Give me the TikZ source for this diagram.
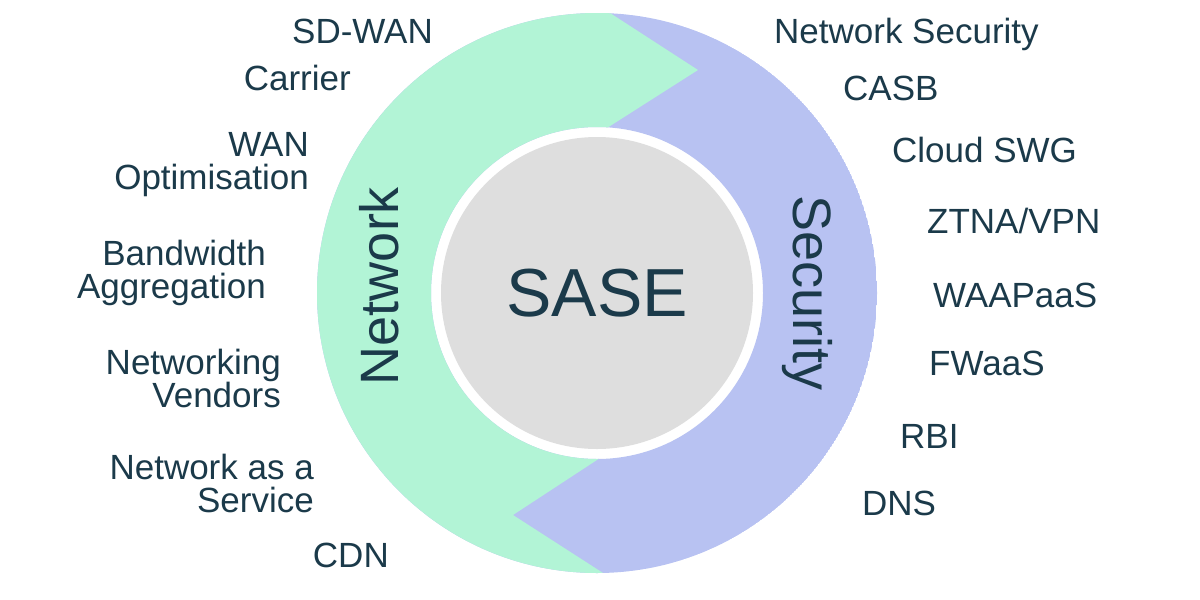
\documentclass[tikz,border=0pt]{standalone}
\usepackage{fontspec}
\setmainfont{Liberation Sans}
\definecolor{netgreen}{HTML}{B2F4D6}
\definecolor{secblue}{HTML}{B8C2F2}
\definecolor{coregray}{HTML}{DEDEDE}
\definecolor{ink}{HTML}{1B3A4A}

\begin{document}
\begin{tikzpicture}[
        x=1pt, y=-1pt,
        item/.style={
            inner sep=0pt,
            text=ink,
            font=\fontsize{35}{33}\selectfont
        },
        leftitem/.style={
            item,
            anchor=base east,
            align=right
        },
        rightitem/.style={
            item,
            anchor=base west
        },
        ringlabel/.style={
            inner sep=0pt,
            text=ink,
            font=\fontsize{54}{54}\selectfont
        },
        core/.style={
            circle,
            fill=coregray,
            minimum size=312pt,
            inner sep=0pt,
            text=ink,
            font=\fontsize{68}{68}\selectfont
        }
    ]

    \useasboundingbox[fill=white] (0,0) rectangle (1200,600);
    \coordinate (c) at (597,293);

    % ring: security half, network half laid over it
    \begin{scope}[even odd rule]
        \clip (c) circle[radius=280pt] (c) circle[radius=166pt];
        \fill[secblue] (c) circle[radius=280pt];
        \fill[netgreen] (0,0) -- (590,0) -- (698,70) -- (607,128) -- (600,458)
            -- (513,515) -- (645,600) -- (0,600) -- cycle;
    \end{scope}

    \node[core] (sase) at (c) {SASE};

    \node[ringlabel, rotate=90] (network) at (379,286) {Network};
    \node[ringlabel, rotate=-90] (security) at (807,293) {Security};

    % network side (base = last line)
    \node[leftitem] (sdwan) at (433,43) {SD-WAN};
    \node[leftitem] (carrier) at (351,90) {Carrier};
    \node[leftitem] (wanopt) at (309,189) {WAN\\Optimisation};
    \node[leftitem] (bandwidth) at (266,298) {Bandwidth\\Aggregation};
    \node[leftitem] (vendors) at (281,407) {Networking\\Vendors};
    \node[leftitem] (naas) at (314,512) {Network as a\\Service};
    \node[leftitem] (cdn) at (389,567) {CDN};

    % security side
    \node[rightitem] (netsec) at (774,43) {Network Security};
    \node[rightitem] (casb) at (843,100) {CASB};
    \node[rightitem] (swg) at (892,162) {Cloud SWG};
    \node[rightitem] (ztna) at (927,233) {ZTNA/VPN};
    \node[rightitem] (waap) at (933,307) {WAAPaaS};
    \node[rightitem] (fwaas) at (929,375) {FWaaS};
    \node[rightitem] (rbi) at (900,448) {RBI};
    \node[rightitem] (dns) at (862,515) {DNS};

\end{tikzpicture}
\end{document}
